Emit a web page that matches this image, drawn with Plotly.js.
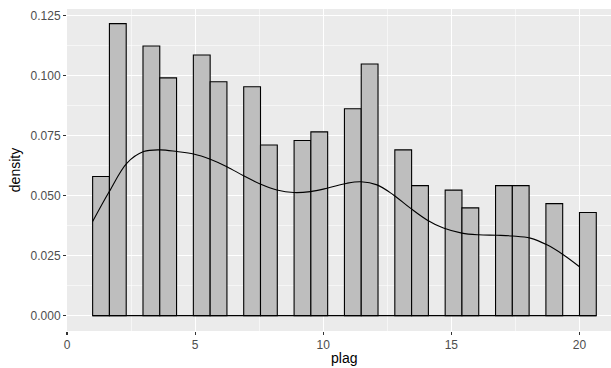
<!DOCTYPE html>
<html>
<head>
<meta charset="utf-8">
<script src="https://cdn.plot.ly/plotly-3.0.1.min.js"></script>
<style>html,body{margin:0;padding:0;background:#fff;}#chart{width:611px;height:368px;}</style>
</head>
<body>
<div id="chart"></div>
<script>
// Histogram bins (plag values) and their densities
const binCenters = [1.328, 1.983, 3.293, 3.948, 5.259, 5.914, 7.224, 7.879, 9.190, 9.845,
                    11.155, 11.810, 13.121, 13.776, 15.086, 15.741, 17.052, 17.707, 19.017, 20.328];
const binDensity = [0.0580, 0.1217, 0.1124, 0.0991, 0.1086, 0.0975, 0.0954, 0.0711, 0.0730, 0.0766,
                    0.0862, 0.1049, 0.0691, 0.0542, 0.0523, 0.0449, 0.0542, 0.0542, 0.0467, 0.0430];
const binWidth = 0.6552;

// Kernel density curve
const densX = [1.0, 1.65, 2.34, 2.99, 3.64, 4.29, 4.94, 5.59, 6.24, 6.89, 7.54, 8.19, 8.85, 9.50, 10.15,
               10.93, 11.47, 12.10, 12.74, 13.40, 14.05, 14.69, 15.41, 16.06, 16.78, 17.39, 18.08, 18.73, 19.38, 20.0];
const densY = [0.0392, 0.0517, 0.0636, 0.0684, 0.0691, 0.0684, 0.0674, 0.0652, 0.0621, 0.0583, 0.0549, 0.0524, 0.0513, 0.0517, 0.0531,
               0.0552, 0.0558, 0.0545, 0.0503, 0.0448, 0.0399, 0.0365, 0.0344, 0.0337, 0.0335, 0.0332, 0.0323, 0.0295, 0.0253, 0.0204];

const xTickVals = [0, 5, 10, 15, 20];
const yTickVals = [0, 0.025, 0.05, 0.075, 0.1, 0.125];
const yTickText = ['0.000', '0.025', '0.050', '0.075', '0.100', '0.125'];
const xTitle = 'plag';
const yTitle = 'density';

const histStart = binCenters[0] - binWidth / 2;
const histEnd = binCenters[binCenters.length - 1] + binWidth / 2;

const traces = [
  {
    type: 'bar', x: binCenters, y: binDensity, width: binWidth,
    marker: {color: '#BEBEBE', line: {color: '#000000', width: 1.1}},
    hoverinfo: 'skip', showlegend: false
  },
  {
    type: 'scatter', mode: 'lines', x: [histStart, histEnd], y: [0, 0],
    line: {color: '#000000', width: 1.4}, hoverinfo: 'skip', showlegend: false
  },
  {
    type: 'scatter', mode: 'lines', x: densX, y: densY,
    line: {color: '#000000', width: 1.1, shape: 'spline', smoothing: 1},
    hoverinfo: 'skip', showlegend: false
  }
];

const font = {family: '"Liberation Sans", Arial, sans-serif'};
const layout = {
  width: 611, height: 368,
  margin: {l: 67, r: 0, t: 9, b: 37, pad: 0},
  paper_bgcolor: '#ffffff', plot_bgcolor: '#EBEBEB',
  font: font,
  showlegend: false,
  xaxis: {
    range: [0.0, 21.23], autorange: false,
    tickvals: xTickVals, ticktext: xTickVals.map(String),
    ticks: 'outside', ticklen: 3, tickwidth: 1.1, tickcolor: '#333333',
    tickfont: {family: font.family, size: 12, color: '#4D4D4D'},
    showgrid: true, gridcolor: '#FFFFFF', gridwidth: 1.1,
    minor: {dtick: 2.5, tick0: 0, showgrid: true, gridcolor: '#FFFFFF', gridwidth: 0.55, ticks: ''},
    zeroline: false, showline: false, automargin: false
  },
  yaxis: {
    range: [-0.0064, 0.1278], autorange: false,
    tickvals: yTickVals, ticktext: yTickText,
    ticks: 'outside', ticklen: 3, tickwidth: 1.1, tickcolor: '#333333',
    tickfont: {family: font.family, size: 12, color: '#4D4D4D'},
    showgrid: true, gridcolor: '#FFFFFF', gridwidth: 1.1,
    minor: {dtick: 0.0125, tick0: 0, showgrid: true, gridcolor: '#FFFFFF', gridwidth: 0.55, ticks: ''},
    zeroline: false, showline: false, automargin: false,
    title: {text: yTitle, font: {family: font.family, size: 14, color: '#000000'}, standoff: 6}
  },
  annotations: [
    {text: xTitle, xref: 'paper', yref: 'paper', x: 0.509, y: -0.083,
     xanchor: 'center', yanchor: 'middle', showarrow: false,
     font: {family: font.family, size: 14, color: '#000000'}}
  ]
};

Plotly.newPlot('chart', traces, layout, {staticPlot: true, displayModeBar: false});
</script>
</body>
</html>
